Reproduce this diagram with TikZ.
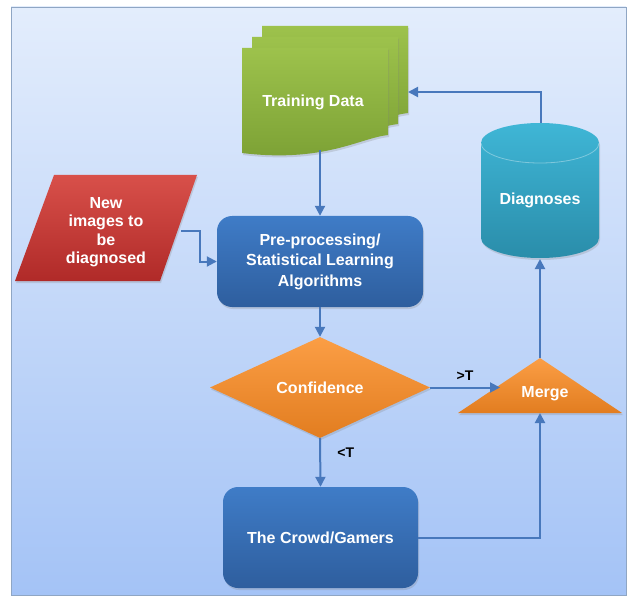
\documentclass[tikz,border=0pt]{standalone}
\usepackage{fontspec}
\setsansfont{Liberation Sans}
\usetikzlibrary{shapes.geometric}
\usetikzlibrary{arrows.meta}
\usetikzlibrary{shadows}
\definecolor{bgtop}{HTML}{E3EDFC}
\definecolor{bgbottom}{HTML}{A4C3F6}
\definecolor{frameline}{HTML}{8FA6C4}
\definecolor{flowblue}{HTML}{4878BC}
\definecolor{greentop}{HTML}{9DC24C}
\definecolor{greenbottom}{HTML}{7BA034}
\definecolor{redtop}{HTML}{D8504A}
\definecolor{redbottom}{HTML}{B02A28}
\definecolor{bluetop}{HTML}{3F7CC7}
\definecolor{bluebottom}{HTML}{2E5E9E}
\definecolor{orangetop}{HTML}{FB9E45}
\definecolor{orangebottom}{HTML}{E27D20}
\definecolor{tealtop}{HTML}{3FB6D6}
\definecolor{tealbottom}{HTML}{2A8DAA}
\tikzset{
  flow/.style = {draw = flowblue, line width = 2pt, -{Triangle[length = 10pt, width = 10pt]}},
  softshadow/.style = {drop shadow = {opacity = 0.25, shadow xshift = 1pt, shadow yshift = -2pt}},
  whitetext/.style = {text = white, align = center, font = \sffamily\bfseries\fontsize{16}{20.5}\selectfont},
  blackbold/.style = {text = black, font = \sffamily\bfseries\fontsize{14}{16}\selectfont},
  bluebox/.style = {rectangle, rounded corners = 15pt, top color = bluetop, bottom color = bluebottom, softshadow, whitetext},
  pics/sheet/.style = {
    code = {
      \shade[top color = greentop, bottom color = greenbottom, softshadow]
        (0, 0) -- (146, 0) -- (146, 87) .. controls (118, 90) and (82, 115) .. (0, 105) -- cycle;
    }
  }
}
\begin{document}
\begin{tikzpicture}[x = 1pt, y = -1pt]
	\useasboundingbox (0, 0) rectangle (627, 599);
	\shade[top color = bgtop, bottom color = bgbottom, draw = frameline, line width = 0.8pt] (11, 7) rectangle (626, 595); % background

	% training data stack
	\pic at (262, 26) {sheet};
	\pic at (252, 37) {sheet};
	\pic at (242, 48) {sheet};
	\node[whitetext] (training) at (313, 102) {Training Data};
	\coordinate (trainout) at (320, 150);
	\coordinate (trainin) at (408, 92);

	% new images
	\shade[top color = redtop, bottom color = redbottom, softshadow] (54, 175) -- (197, 175) -- (160, 281) -- (15, 281) -- cycle;
	\node[whitetext, font = \sffamily\bfseries\fontsize{16}{18.5}\selectfont] (newimg) at (106, 232) {New\\images to\\be\\diagnosed};
	\coordinate (newout) at (181, 231);

	\node[bluebox, minimum width = 206pt, minimum height = 91pt] (preproc) at (320, 261.5) {Pre-processing/\\Statistical Learning\\Algorithms};

	\node[diamond, top color = orangetop, bottom color = orangebottom, softshadow, whitetext, minimum width = 220pt, minimum height = 101pt, inner sep = 0pt] (conf) at (320, 387.5) {Confidence};

	% merge
	\shade[top color = orangetop, bottom color = orangebottom, softshadow] (540, 358) -- (622, 413) -- (458, 413) -- cycle;
	\node[whitetext] (merge) at (545, 394) {Merge};
	\coordinate (mergetop) at (540, 358);
	\coordinate (mergein) at (500, 387.5);
	\coordinate (mergebot) at (540, 413);

	% diagnoses
	\shade[top color = tealtop, bottom color = tealbottom, softshadow] (481, 143) -- (481, 238) arc (180:0:59 and 20) -- (599, 143) arc (360:180:59 and 20) -- cycle;
	\draw[white, opacity = 0.35, line width = 0.8pt] (481, 143) arc (180:0:59 and 20);
	\node[whitetext] (diag) at (540, 200) {Diagnoses};
	\coordinate (diagtop) at (541, 123);
	\coordinate (diagbot) at (540, 259);

	\node[bluebox, minimum width = 195pt, minimum height = 101pt] (crowd) at (320.5, 537.5) {The Crowd/Gamers};

	% connectors
	\draw[flow] (trainout) -- (trainout |- preproc.north);
	\draw[flow] (newout) -- ++(19, 0) |- (preproc.west);
	\draw[flow] (preproc.south) -- (conf.north);
	\draw[flow] (conf.east) -- node[blackbold, above = 3pt] (gt) {>T} (mergein);
	\draw[flow] (conf.south) -- node[blackbold, right = 13pt, pos = 0.3] (lt) {<T} (crowd.north);
	\draw[flow] (crowd.east) -| (mergebot);
	\draw[flow] (mergetop) -- (diagbot);
	\draw[flow] (diagtop) |- (trainin);
\end{tikzpicture}
\end{document}
